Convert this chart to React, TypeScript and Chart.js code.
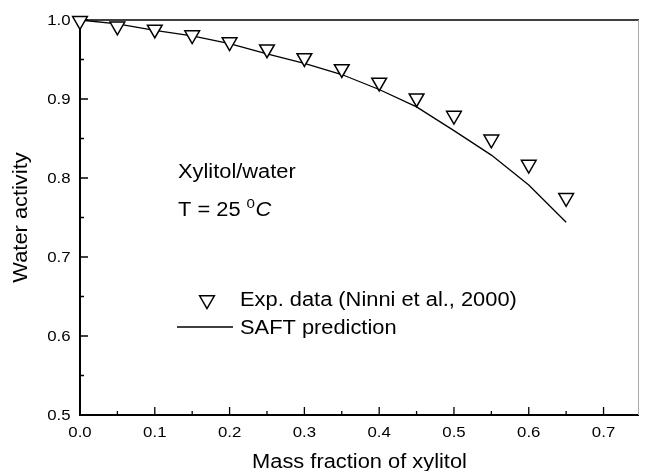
import React, { useEffect, useRef } from 'react';
import { Chart, registerables } from 'chart.js';

Chart.register(...registerables);

const massFraction = [0, 0.05, 0.1, 0.15, 0.2, 0.25, 0.3, 0.35, 0.4, 0.45, 0.5, 0.55, 0.6, 0.65];
const expWaterActivity = [0.999, 0.992, 0.988, 0.981, 0.972, 0.963, 0.952, 0.938, 0.921, 0.901, 0.879, 0.849, 0.817, 0.775];
const saftWaterActivity = [1.0, 0.995, 0.987, 0.98, 0.97, 0.957, 0.945, 0.931, 0.912, 0.89, 0.86, 0.829, 0.791, 0.744];

const xMajorTicks = [0, 0.1, 0.2, 0.3, 0.4, 0.5, 0.6, 0.7];
const xTickLabels = ['0.0', '0.1', '0.2', '0.3', '0.4', '0.5', '0.6', '0.7'];
const xMinorTicks = [0.05, 0.15, 0.25, 0.35, 0.45, 0.55, 0.65];
const yMajorTicks = [0.5, 0.6, 0.7, 0.8, 0.9, 1.0];
const yTickLabels = ['0.5', '0.6', '0.7', '0.8', '0.9', '1.0'];
const yMinorTicks = [0.55, 0.65, 0.75, 0.85, 0.95];

const xTitle = 'Mass fraction of xylitol';
const yTitle = 'Water activity';
const systemLabel = 'Xylitol/water';
const expLabel = 'Exp. data (Ninni et al., 2000)';
const saftLabel = 'SAFT prediction';

const FONT = '"Liberation Sans", Arial, Helvetica, sans-serif';
const SX = 1.12;

function drawText(ctx: CanvasRenderingContext2D, text: string, x: number, cy: number, align: string, size: number, italic = false) {
  ctx.save();
  ctx.font = `${italic ? 'italic ' : ''}${size}px ${FONT}`;
  ctx.textBaseline = 'alphabetic';
  ctx.textAlign = 'left';
  ctx.fillStyle = '#000';
  const w = ctx.measureText(text).width * SX;
  const left = align === 'left' ? x : align === 'center' ? x - w / 2 : x - w;
  ctx.translate(left, cy + size * 0.716 / 2);
  ctx.scale(SX, 1);
  ctx.fillText(text, 0, 0);
  ctx.restore();
  return w;
}

function triangle(ctx: CanvasRenderingContext2D, x: number, y: number, r: number) {
  ctx.save();
  ctx.beginPath();
  for (let i = 0; i < 3; i++) {
    const a = Math.PI + (i * 2 * Math.PI) / 3;
    const px = x + Math.sin(a) * r;
    const py = y - Math.cos(a) * r;
    if (i === 0) ctx.moveTo(px, py); else ctx.lineTo(px, py);
  }
  ctx.closePath();
  ctx.fillStyle = '#fff';
  ctx.fill();
  ctx.lineWidth = 1.5;
  ctx.strokeStyle = '#000';
  ctx.stroke();
  ctx.restore();
}

const framePlugin = {
  id: 'frame',
  beforeDatasetsDraw(chart: any) {
    const ctx: CanvasRenderingContext2D = chart.ctx;
    const { left, right, top, bottom } = chart.chartArea;
    const xs = chart.scales.x;
    const ys = chart.scales.y;
    ctx.save();
    ctx.strokeStyle = '#000';
    ctx.lineWidth = 1.5;
    ctx.beginPath();
    ctx.moveTo(left, top); ctx.lineTo(right, top);
    ctx.stroke();
    ctx.lineWidth = 2;
    ctx.beginPath();
    ctx.moveTo(left, top - 1); ctx.lineTo(left, bottom);
    ctx.lineTo(right, bottom);
    ctx.stroke();
    ctx.strokeStyle = '#aaa';
    ctx.lineWidth = 1;
    ctx.beginPath();
    ctx.moveTo(right - 0.5, top); ctx.lineTo(right - 0.5, bottom);
    ctx.stroke();
    ctx.strokeStyle = '#000';
    ctx.lineWidth = 1.3;
    ctx.beginPath();
    xMajorTicks.forEach((v) => { const px = xs.getPixelForValue(v); ctx.moveTo(px, bottom); ctx.lineTo(px, bottom - 8); });
    xMinorTicks.forEach((v) => { const px = xs.getPixelForValue(v); ctx.moveTo(px, bottom); ctx.lineTo(px, bottom - 4); });
    yMajorTicks.forEach((v) => { const py = ys.getPixelForValue(v); ctx.moveTo(left, py); ctx.lineTo(left + 8, py); });
    yMinorTicks.forEach((v) => { const py = ys.getPixelForValue(v); ctx.moveTo(left, py); ctx.lineTo(left + 4, py); });
    ctx.stroke();
    ctx.restore();
  },
  afterDraw(chart: any) {
    const ctx: CanvasRenderingContext2D = chart.ctx;
    const { left, right, top, bottom } = chart.chartArea;
    const xs = chart.scales.x;
    const ys = chart.scales.y;
    ctx.save();
    xMajorTicks.forEach((v, i) => drawText(ctx, xTickLabels[i], xs.getPixelForValue(v), bottom + 17, 'center', 15));
    yMajorTicks.forEach((v, i) => drawText(ctx, yTickLabels[i], left - 9.5, ys.getPixelForValue(v), 'right', 15));
    drawText(ctx, xTitle, (left + right) / 2, bottom + 46, 'center', 19.5);
    ctx.save();
    ctx.translate(left - 60, (top + bottom) / 2);
    ctx.rotate(-Math.PI / 2);
    drawText(ctx, yTitle, 0, 0, 'center', 19.5);
    ctx.restore();
    const ax = left + 98;
    drawText(ctx, systemLabel, ax, top + 151, 'left', 19.5);
    let cx = ax;
    cx += drawText(ctx, 'T = 25 ', cx, top + 189, 'left', 19.5);
    drawText(ctx, '0', cx, top + 183, 'left', 13.5);
    cx += 9;
    drawText(ctx, 'C', cx, top + 189, 'left', 19.5, true);
    triangle(ctx, left + 127, top + 280, 8.5);
    drawText(ctx, expLabel, left + 160, top + 279, 'left', 19.5);
    ctx.strokeStyle = '#000';
    ctx.lineWidth = 1.3;
    ctx.beginPath();
    ctx.moveTo(left + 97, top + 307); ctx.lineTo(left + 153, top + 307);
    ctx.stroke();
    drawText(ctx, saftLabel, left + 160, top + 307, 'left', 19.5);
    ctx.restore();
  },
};

export default function App() {
  const ref = useRef<HTMLCanvasElement>(null);
  useEffect(() => {
    document.body.style.margin = '0';
    const chart = new Chart(ref.current as HTMLCanvasElement, {
      type: 'scatter',
      data: {
        datasets: [
          {
            label: saftLabel,
            type: 'line',
            data: massFraction.map((x, i) => ({ x, y: saftWaterActivity[i] })),
            borderColor: '#000',
            borderWidth: 1.3,
            pointRadius: 0,
            fill: false,
            tension: 0,
            clip: false,
            order: 2,
          } as any,
          {
            label: expLabel,
            data: massFraction.map((x, i) => ({ x, y: expWaterActivity[i] })),
            pointStyle: 'triangle',
            rotation: 180,
            pointRadius: 8.5,
            borderColor: '#000',
            backgroundColor: '#fff',
            borderWidth: 1.5,
            clip: false,
            order: 1,
          } as any,
        ],
      },
      options: {
        animation: false,
        responsive: false,
        devicePixelRatio: 1,
        layout: { padding: { left: 80, top: 20, right: 1, bottom: 56 } },
        plugins: { legend: { display: false }, tooltip: { enabled: false } },
        scales: {
          x: { type: 'linear', display: false, min: 0, max: 0.7474 },
          y: { type: 'linear', display: false, min: 0.5, max: 1.0 },
        },
      },
      plugins: [framePlugin],
    });
    return () => chart.destroy();
  }, []);
  return (
    <div style={{ position: 'fixed', left: 0, top: 0, width: 649, height: 471, background: '#fff' }}>
      <canvas ref={ref} width={649} height={471} />
    </div>
  );
}
